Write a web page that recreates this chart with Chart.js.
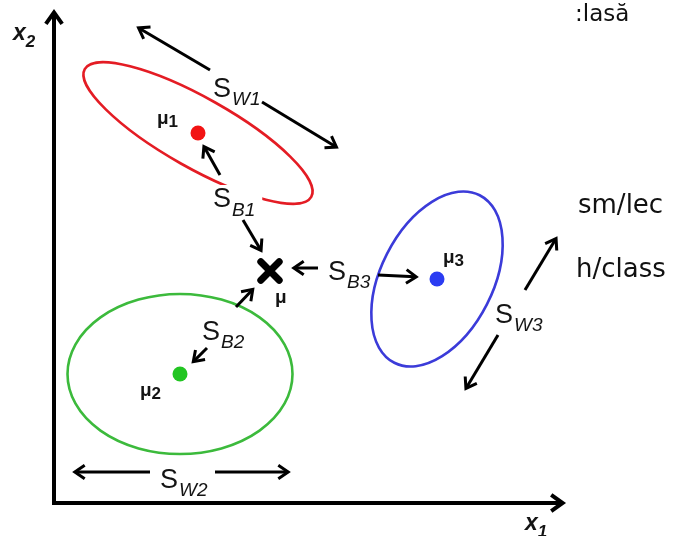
<!DOCTYPE html>
<html>
<head>
<meta charset="utf-8">
<script src="https://cdn.jsdelivr.net/npm/chart.js@4/dist/chart.umd.min.js"></script>
<style>
  html, body { margin: 0; padding: 0; background: #fff; }
  #wrap { position: relative; width: 673px; height: 536px; overflow: hidden; background: #fff; }
  #wrap canvas { position: absolute; left: 0; top: 0; }
  .side { position: absolute; font-family: "DejaVu Sans", sans-serif; color: #111; white-space: nowrap; }
</style>
</head>
<body>
<div id="wrap">
  <canvas id="c" width="673" height="536"></canvas>
  <div class="side" style="left:575px; top:2px; font-size:23px; line-height:23px;">:lasă</div>
  <div class="side" style="left:578px; top:191px; font-size:26px; line-height:26px;">sm/lec</div>
  <div class="side" style="left:576px; top:255px; font-size:26px; line-height:26px;">h/class</div>
</div>
<script>
// ---- class means in the (x1, x2) feature plane ----
const classLabels = ['1', '2', '3'];
const meanX1 = [2.88, 2.52, 7.66];
const meanX2 = [7.40, 2.58, 4.48];

// ---- within-class spread: semi-axes and tilt of each class ellipse (degrees) ----
const spreadMajor = [2.60, 2.25, 1.88];
const spreadMinor = [0.70, 1.60, 1.12];
const spreadTilt = [-29.4, 0, 63];

// ---- overall mean ----
const overallMean = [4.32, 4.64];

// ---- feature axes (origin to arrow tip) ----
const axisEnds = [[0, 9.86], [10.22, 0]];

// ---- scatter arrows: tail -> tip ----
const arrowTails = [
  [3.12, 8.66], [4.16, 8.02],   // S_W1
  [3.32, 6.56], [3.78, 5.66],   // S_B1
  [5.28, 4.70], [6.48, 4.56],   // S_B3
  [3.64, 3.92], [3.06, 3.10],   // S_B2
  [9.42, 4.26], [8.88, 3.36],   // S_W3
  [1.92, 0.62], [3.22, 0.62]    // S_W2
];
const arrowTips = [
  [1.66, 9.52], [5.68, 7.10],
  [2.98, 7.16], [4.16, 5.02],
  [4.76, 4.70], [7.28, 4.52],
  [4.00, 4.30], [2.76, 2.80],
  [10.06, 5.32], [8.22, 2.26],
  [0.38, 0.62], [4.72, 0.62]
];

// ---- scatter-matrix labels: subscript and anchor ----
const scatterSubs = ['W1', 'B1', 'B3', 'B2', 'W3', 'W2'];
const scatterAnchors = [[3.18, 8.12], [3.18, 5.92], [5.48, 4.46], [2.96, 3.26], [8.82, 3.60], [2.12, 0.30]];

// ---- mean labels ----
const meanLabelAnchors = [[2.06, 7.58], [1.72, 2.14], [7.78, 4.80]];
const overallMeanAnchor = [4.42, 4.00];

// ---- axis titles ----
const axisTitleSubs = ['2', '1'];
const axisTitleAnchors = [[-0.82, 9.26], [9.42, -0.54]];

const dotColors = ['#f21313', '#22c522', '#2b3cf2'];
const ringColors = ['#e41c24', '#3cba3c', '#3b3bd9'];
const INK = '#141414';

function toPx(chart, p) {
  return [chart.scales.x.getPixelForValue(p[0]), chart.scales.y.getPixelForValue(p[1])];
}

function drawArrow(ctx, a, b, width, head, spread) {
  const ang = Math.atan2(b[1] - a[1], b[0] - a[0]);
  ctx.lineWidth = width;
  ctx.lineCap = 'butt';
  ctx.lineJoin = 'miter';
  ctx.beginPath();
  ctx.moveTo(a[0], a[1]);
  ctx.lineTo(b[0] - Math.cos(ang) * width, b[1] - Math.sin(ang) * width);
  ctx.stroke();
  const tip = [b[0] - Math.cos(ang) * width * 0.6, b[1] - Math.sin(ang) * width * 0.6];
  ctx.beginPath();
  ctx.moveTo(tip[0] - head * Math.cos(ang - spread), tip[1] - head * Math.sin(ang - spread));
  ctx.lineTo(tip[0], tip[1]);
  ctx.lineTo(tip[0] - head * Math.cos(ang + spread), tip[1] - head * Math.sin(ang + spread));
  ctx.stroke();
}

function drawSubLabel(ctx, main, sub, at, mainFont, subFont, drop, gap, bg) {
  ctx.font = mainFont;
  const mw = ctx.measureText(main).width;
  ctx.font = subFont;
  const sw = ctx.measureText(sub).width;
  if (bg) {
    ctx.fillStyle = '#fff';
    ctx.fillRect(at[0] - 5, at[1] - 22, mw + gap + sw + 12, 32);
  }
  ctx.fillStyle = INK;
  ctx.textAlign = 'left';
  ctx.textBaseline = 'alphabetic';
  ctx.font = mainFont;
  ctx.fillText(main, at[0], at[1]);
  ctx.font = subFont;
  ctx.fillText(sub, at[0] + mw + gap, at[1] + drop);
}

const diagramPlugin = {
  id: 'ldaDiagram',
  beforeDatasetsDraw(chart) {
    const ctx = chart.ctx;
    const xs = chart.scales.x;
    const unit = xs.getPixelForValue(1) - xs.getPixelForValue(0);
    ctx.save();
    // class ellipses
    for (let i = 0; i < meanX1.length; i++) {
      const c = toPx(chart, [meanX1[i], meanX2[i]]);
      ctx.beginPath();
      ctx.ellipse(c[0], c[1], spreadMajor[i] * unit, spreadMinor[i] * unit,
        -spreadTilt[i] * Math.PI / 180, 0, Math.PI * 2);
      ctx.strokeStyle = ringColors[i];
      ctx.lineWidth = 2.6;
      ctx.stroke();
    }
    // feature axes
    ctx.strokeStyle = '#000';
    const o = toPx(chart, [0, 0]);
    for (const e of axisEnds) {
      drawArrow(ctx, o, toPx(chart, e), 4, 14, 0.62);
    }
    ctx.fillStyle = '#000';
    ctx.fillRect(o[0] - 2, o[1] - 2, 4, 4);
    ctx.restore();
  },
  afterDatasetsDraw(chart) {
    const ctx = chart.ctx;
    ctx.save();
    // S_B1 sits on the red ellipse with a white backing
    const b1 = toPx(chart, scatterAnchors[1]);
    drawSubLabel(ctx, 'S', scatterSubs[1], b1, '27px "Liberation Sans"', 'italic 19px "Liberation Sans"', 9, 1, true);
    // arrows
    ctx.strokeStyle = '#000';
    for (let i = 0; i < arrowTails.length; i++) {
      drawArrow(ctx, toPx(chart, arrowTails[i]), toPx(chart, arrowTips[i]), 3, 12, 0.6);
    }
    // scatter labels
    scatterSubs.forEach((s, i) => {
      if (i === 1) return;
      drawSubLabel(ctx, 'S', s, toPx(chart, scatterAnchors[i]), '27px "Liberation Sans"', 'italic 19px "Liberation Sans"', 8, 1, false);
    });
    // mean labels
    classLabels.forEach((s, i) => {
      drawSubLabel(ctx, 'μ', s, toPx(chart, meanLabelAnchors[i]), 'bold 19px "Liberation Sans"', 'bold 17px "Liberation Sans"', 3, 0, false);
    });
    ctx.fillStyle = INK;
    ctx.font = 'bold 19px "Liberation Sans"';
    const m = toPx(chart, overallMeanAnchor);
    ctx.fillText('μ', m[0], m[1]);
    // axis titles
    axisTitleSubs.forEach((s, i) => {
      drawSubLabel(ctx, 'x', s, toPx(chart, axisTitleAnchors[i]), 'bold italic 23px "Liberation Sans"', 'bold italic 17px "Liberation Sans"', 7, 0, false);
    });
    ctx.restore();
  },
  beforeDatasetDraw(chart, args) {
    if (args.index === 1) chart.ctx.lineCap = 'round';
  },
  afterDatasetDraw(chart, args) {
    if (args.index === 1) chart.ctx.lineCap = 'butt';
  }
};

new Chart(document.getElementById('c'), {
  type: 'scatter',
  data: {
    datasets: [
      {
        label: 'class means',
        data: meanX1.map((x, i) => ({ x: x, y: meanX2[i] })),
        backgroundColor: dotColors,
        borderWidth: 0,
        pointRadius: 7.5,
        pointHoverRadius: 7.5
      },
      {
        label: 'overall mean',
        data: [{ x: overallMean[0], y: overallMean[1] }],
        pointStyle: 'crossRot',
        pointRadius: 13,
        pointHoverRadius: 13,
        borderColor: '#000',
        backgroundColor: '#000',
        borderWidth: 7
      }
    ]
  },
  options: {
    responsive: false,
    devicePixelRatio: 1,
    animation: false,
    events: [],
    layout: { autoPadding: false, padding: { left: 54, right: 19, top: 3, bottom: 33 } },
    plugins: { legend: { display: false }, tooltip: { enabled: false }, title: { display: false } },
    scales: {
      x: { type: 'linear', min: 0, max: 12, display: false },
      y: { type: 'linear', min: 0, max: 10, display: false }
    }
  },
  plugins: [diagramPlugin]
});
</script>
</body>
</html>
